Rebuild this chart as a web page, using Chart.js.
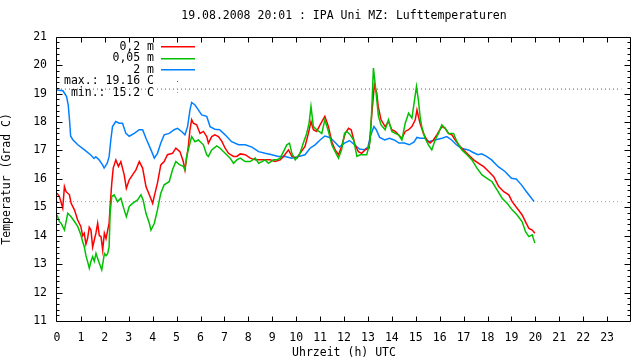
<!DOCTYPE html>
<html>
<head>
<meta charset="utf-8">
<script src="https://cdn.jsdelivr.net/npm/chart.js@4/dist/chart.umd.min.js"></script>
<style>
  html, body { margin: 0; padding: 0; background: #fff; }
</style>
</head>
<body>
<canvas id="chart" width="640" height="360"></canvas>
<script>
// 2 m
const hours2m = [0, 0.25, 0.4, 0.47, 0.53, 0.57, 0.67, 0.87, 1.15, 1.4, 1.55, 1.62, 1.75, 1.9, 1.97, 2.1, 2.18, 2.25, 2.32, 2.46, 2.6, 2.74, 2.88, 3.02, 3.23, 3.44, 3.58, 3.72, 3.93, 4.07, 4.2, 4.34, 4.48, 4.69, 4.9, 5.04, 5.21, 5.35, 5.46, 5.56, 5.63, 5.77, 5.91, 6.05, 6.26, 6.4, 6.6, 6.8, 7.03, 7.3, 7.59, 7.87, 8.15, 8.43, 8.7, 8.98, 9.26, 9.54, 9.82, 10.1, 10.37, 10.58, 10.79, 11.0, 11.2, 11.4, 11.6, 11.81, 12.02, 12.23, 12.44, 12.65, 12.86, 13.0, 13.1, 13.25, 13.35, 13.49, 13.7, 13.9, 14.1, 14.3, 14.52, 14.73, 14.93, 15.05, 15.2, 15.38, 15.55, 15.8, 16.1, 16.3, 16.5, 16.7, 16.9, 17.2, 17.4, 17.6, 17.75, 17.96, 18.17, 18.45, 18.73, 19.0, 19.2, 19.42, 19.63, 19.84, 19.95];
const temp2m = [19.13, 19.1, 18.9, 18.6, 18.0, 17.5, 17.37, 17.2, 17.02, 16.85, 16.72, 16.78, 16.68, 16.5, 16.38, 16.55, 16.79, 17.37, 17.84, 18.02, 17.96, 17.96, 17.6, 17.5, 17.6, 17.73, 17.73, 17.43, 17.02, 16.73, 16.9, 17.26, 17.55, 17.6, 17.73, 17.78, 17.67, 17.55, 17.84, 18.43, 18.69, 18.6, 18.43, 18.25, 18.2, 17.84, 17.75, 17.73, 17.55, 17.31, 17.2, 17.2, 17.12, 16.96, 16.9, 16.85, 16.79, 16.79, 16.73, 16.79, 16.85, 17.08, 17.2, 17.37, 17.51, 17.46, 17.31, 17.12, 17.26, 17.35, 17.2, 17.05, 17.03, 17.12, 17.49, 17.84, 17.73, 17.46, 17.37, 17.43, 17.37, 17.26, 17.26, 17.2, 17.3, 17.46, 17.43, 17.43, 17.31, 17.37, 17.43, 17.49, 17.37, 17.2, 17.08, 17.02, 16.93, 16.85, 16.88, 16.79, 16.67, 16.43, 16.26, 16.02, 16.0, 15.79, 15.55, 15.32, 15.2];

// 0,2 m
const hours02m = [0, 0.1, 0.24, 0.31, 0.38, 0.52, 0.59, 0.73, 0.86, 1.0, 1.07, 1.14, 1.21, 1.28, 1.35, 1.42, 1.49, 1.56, 1.63, 1.7, 1.77, 1.84, 1.91, 1.98, 2.05, 2.12, 2.18, 2.22, 2.29, 2.35, 2.46, 2.57, 2.67, 2.81, 2.9, 3.02, 3.16, 3.3, 3.44, 3.58, 3.72, 3.86, 4.0, 4.08, 4.2, 4.34, 4.48, 4.62, 4.83, 4.97, 5.14, 5.28, 5.35, 5.49, 5.56, 5.63, 5.7, 5.84, 5.98, 6.12, 6.26, 6.33, 6.47, 6.6, 6.75, 6.9, 7.03, 7.17, 7.38, 7.52, 7.66, 7.87, 8.08, 8.29, 8.5, 8.7, 8.91, 9.12, 9.33, 9.47, 9.68, 9.82, 10.03, 10.16, 10.37, 10.51, 10.62, 10.72, 10.86, 11.0, 11.2, 11.35, 11.49, 11.63, 11.77, 11.9, 12.05, 12.19, 12.3, 12.46, 12.6, 12.74, 12.88, 13.05, 13.16, 13.27, 13.37, 13.43, 13.55, 13.72, 13.86, 14.0, 14.14, 14.28, 14.42, 14.56, 14.7, 14.84, 14.98, 15.05, 15.11, 15.18, 15.32, 15.46, 15.6, 15.74, 15.88, 16.09, 16.23, 16.37, 16.51, 16.65, 16.79, 17.0, 17.2, 17.42, 17.63, 17.84, 18.05, 18.26, 18.47, 18.68, 18.89, 19.03, 19.24, 19.45, 19.59, 19.73, 19.87, 19.98];
const temp02m = [15.5, 15.38, 14.97, 15.73, 15.55, 15.44, 15.14, 14.91, 14.56, 14.32, 14.0, 14.09, 13.7, 13.91, 14.3, 14.2, 13.6, 13.85, 14.1, 14.44, 14.0, 13.97, 13.5, 14.09, 13.9, 14.2, 14.44, 15.03, 15.85, 16.38, 16.67, 16.44, 16.61, 16.14, 15.67, 15.97, 16.14, 16.32, 16.61, 16.38, 15.73, 15.44, 15.14, 15.44, 15.85, 16.49, 16.61, 16.85, 16.9, 17.08, 16.96, 16.61, 16.32, 17.14, 17.73, 18.08, 17.96, 17.9, 17.6, 17.67, 17.49, 17.26, 17.49, 17.55, 17.49, 17.31, 17.08, 16.9, 16.79, 16.79, 16.88, 16.85, 16.73, 16.67, 16.67, 16.67, 16.67, 16.61, 16.67, 16.79, 17.02, 16.79, 16.73, 16.9, 17.14, 17.6, 18.02, 17.73, 17.67, 17.9, 18.2, 17.84, 17.31, 17.02, 16.85, 17.14, 17.6, 17.78, 17.73, 17.2, 16.96, 16.9, 17.02, 17.08, 18.25, 19.31, 19.02, 18.55, 18.08, 17.84, 18.02, 17.73, 17.67, 17.55, 17.43, 17.67, 17.73, 17.84, 18.08, 18.43, 18.2, 17.96, 17.6, 17.37, 17.26, 17.37, 17.55, 17.84, 17.78, 17.6, 17.55, 17.37, 17.2, 17.02, 16.85, 16.67, 16.55, 16.43, 16.26, 16.08, 15.73, 15.55, 15.44, 15.2, 14.97, 14.73, 14.49, 14.26, 14.2, 14.09];

// 0,05 m
const hours005m = [0, 0.1, 0.17, 0.31, 0.45, 0.59, 0.73, 0.87, 1.0, 1.07, 1.14, 1.21, 1.28, 1.35, 1.42, 1.49, 1.56, 1.63, 1.7, 1.77, 1.87, 1.93, 1.98, 2.05, 2.12, 2.18, 2.22, 2.29, 2.39, 2.53, 2.67, 2.81, 2.9, 3.02, 3.16, 3.37, 3.51, 3.6, 3.72, 3.86, 3.93, 4.07, 4.2, 4.34, 4.48, 4.69, 4.83, 4.97, 5.14, 5.28, 5.35, 5.42, 5.56, 5.63, 5.77, 5.91, 6.12, 6.26, 6.33, 6.47, 6.68, 6.82, 7.03, 7.24, 7.38, 7.52, 7.66, 7.87, 8.08, 8.29, 8.43, 8.57, 8.7, 8.84, 9.05, 9.19, 9.33, 9.47, 9.61, 9.72, 9.82, 9.96, 10.16, 10.3, 10.44, 10.54, 10.62, 10.72, 10.86, 11.07, 11.2, 11.35, 11.49, 11.63, 11.77, 11.9, 12.02, 12.12, 12.26, 12.4, 12.54, 12.67, 12.81, 12.95, 13.09, 13.16, 13.23, 13.3, 13.37, 13.44, 13.55, 13.72, 13.86, 14.0, 14.14, 14.28, 14.42, 14.56, 14.7, 14.84, 14.95, 15.03, 15.11, 15.18, 15.25, 15.39, 15.53, 15.67, 15.81, 15.95, 16.09, 16.23, 16.37, 16.58, 16.72, 16.93, 17.14, 17.35, 17.56, 17.77, 17.98, 18.19, 18.4, 18.61, 18.82, 19.03, 19.24, 19.45, 19.59, 19.73, 19.87, 19.98];
const temp005m = [14.73, 14.5, 14.44, 14.2, 14.79, 14.67, 14.5, 14.32, 14.03, 13.8, 13.62, 13.3, 13.09, 12.86, 13.1, 13.26, 13.1, 13.38, 13.2, 13.03, 12.8, 13.1, 13.38, 13.3, 13.38, 13.62, 14.79, 15.38, 15.44, 15.2, 15.32, 14.91, 14.67, 15.03, 15.14, 15.26, 15.44, 15.26, 14.79, 14.44, 14.2, 14.44, 14.91, 15.5, 15.79, 15.9, 16.32, 16.61, 16.49, 16.44, 16.32, 16.79, 17.26, 17.49, 17.31, 17.37, 17.2, 16.85, 16.79, 17.02, 17.16, 17.08, 16.9, 16.73, 16.55, 16.67, 16.73, 16.61, 16.61, 16.73, 16.55, 16.61, 16.67, 16.55, 16.67, 16.67, 16.73, 16.96, 17.2, 17.26, 16.9, 16.67, 16.9, 17.26, 17.6, 17.96, 18.55, 17.84, 17.73, 17.6, 18.08, 17.67, 17.2, 16.96, 16.73, 17.02, 17.6, 17.67, 17.55, 17.37, 16.79, 16.85, 16.85, 16.85, 17.31, 18.43, 19.9, 19.37, 18.78, 18.2, 17.9, 17.73, 18.08, 17.67, 17.6, 17.55, 17.37, 17.96, 18.31, 18.14, 18.78, 19.25, 18.78, 18.2, 17.84, 17.43, 17.2, 17.02, 17.37, 17.6, 17.9, 17.78, 17.6, 17.6, 17.31, 17.02, 16.85, 16.67, 16.38, 16.14, 16.02, 15.9, 15.61, 15.32, 15.14, 14.91, 14.73, 14.49, 14.14, 13.97, 14.03, 13.74];

const maxTemp = 19.16;
const minTemp = 15.2;
const refLineHours = [0, 23.6];

const xTicks = [0, 1, 2, 3, 4, 5, 6, 7, 8, 9, 10, 11, 12, 13, 14, 15, 16, 17, 18, 19, 20, 21, 22, 23];
const yTicks = [11, 12, 13, 14, 15, 16, 17, 18, 19, 20, 21];

const monoFont = { family: "'DejaVu Sans Mono', monospace", size: 11.5, weight: 'normal' };

function toPoints(xs, ys) {
  return xs.map((h, i) => ({ x: h, y: ys[i] }));
}

// frame + inward tick marks like the original plot
const frameTicks = {
  id: 'frameTicks',
  afterDatasetsDraw(chart) {
    const { ctx, chartArea: a, scales: { x, y } } = chart;
    const L = Math.round(a.left) - 0.5, R = Math.round(a.right) - 0.5;
    const T = Math.round(a.top) + 0.5, B = Math.round(a.bottom) + 0.5;
    ctx.save();
    ctx.strokeStyle = '#000';
    ctx.lineWidth = 1;
    ctx.beginPath();
    ctx.rect(L, T, R - L, B - T);
    xTicks.forEach(h => {
      if (h === 0) return;
      const px = Math.round(x.getPixelForValue(h)) + 0.5;
      ctx.moveTo(px, B); ctx.lineTo(px, B - 5);
      ctx.moveTo(px, T); ctx.lineTo(px, T + 5);
    });
    for (let k = 0; k <= 50; k++) {
      const v = 11 + k * 0.2;
      const py = Math.round(y.getPixelForValue(v)) + 0.5;
      const len = k % 5 === 0 ? 6 : 3;
      ctx.moveTo(L, py); ctx.lineTo(L + len, py);
      ctx.moveTo(R, py); ctx.lineTo(R - len, py);
    }
    ctx.stroke();
    ctx.restore();
  }
};

const legendBox = {
  id: 'legendBox',
  afterDraw(chart) {
    const { ctx } = chart;
    const rows = [
      { text: '0,2 m', color: '#ff0000', line: true },
      { text: '0,05 m', color: '#00c000', line: true },
      { text: '2 m', color: '#0080ff', line: true },
      { text: 'max.: 19.16 C', color: '#a020f0', line: false },
      { text: 'min.: 15.2 C', color: '#00e0e0', line: false }
    ];
    ctx.save();
    ctx.font = "11.5px 'DejaVu Sans Mono', monospace";
    ctx.textAlign = 'right';
    ctx.textBaseline = 'middle';
    rows.forEach((r, i) => {
      const yy = 47 + i * 11.5;
      ctx.fillStyle = '#000';
      ctx.fillText(r.text, 154, yy);
      ctx.fillStyle = r.color;
      if (r.line) ctx.fillRect(161, Math.round(yy) - 1, 34, 1.5);
      else ctx.fillRect(177, Math.round(yy) - 1, 1, 1);
    });
    ctx.restore();
  }
};

new Chart(document.getElementById('chart'), {
  type: 'line',
  data: {
    datasets: [
      { label: '0,05 m', data: toPoints(hours005m, temp005m), borderColor: '#00c000', borderWidth: 1.5, pointRadius: 0, tension: 0, order: 1 },
      { label: '0,2 m', data: toPoints(hours02m, temp02m), borderColor: '#ff0000', borderWidth: 1.5, pointRadius: 0, tension: 0, order: 2 },
      { label: '2 m', data: toPoints(hours2m, temp2m), borderColor: '#0080ff', borderWidth: 1.5, pointRadius: 0, tension: 0, order: 3 },
      { label: 'max', data: refLineHours.map(h => ({ x: h, y: maxTemp })), borderColor: '#a020f0', borderWidth: 1, borderDash: [1, 3], pointRadius: 0, order: 4 },
      { label: 'min', data: refLineHours.map(h => ({ x: h, y: minTemp })), borderColor: '#00e0e0', borderWidth: 1, borderDash: [1, 3], pointRadius: 0, order: 4 }
    ]
  },
  options: {
    responsive: false,
    animation: false,
    layout: { padding: { left: 0, right: 9, top: 0, bottom: 0 } },
    plugins: {
      legend: { display: false },
      tooltip: { enabled: false },
      title: {
        display: true,
        text: '19.08.2008 20:01 : IPA Uni MZ: Lufttemperaturen',
        fullSize: false,
        color: '#000',
        font: monoFont,
        padding: { top: 9, bottom: 14 }
      }
    },
    scales: {
      x: {
        type: 'linear',
        min: 0,
        max: 24,
        afterFit(s) { s.height = 39; },
        afterBuildTicks(s) { s.ticks = xTicks.map(v => ({ value: v })); },
        ticks: { autoSkip: false, maxRotation: 0, padding: 10, color: '#000', font: monoFont },
        grid: { display: false, drawTicks: false },
        border: { display: false },
        title: { display: true, text: 'Uhrzeit (h) UTC', color: '#000', font: monoFont, padding: { top: 2, bottom: 0 } }
      },
      y: {
        type: 'linear',
        min: 11,
        max: 21,
        afterFit(s) { s.width = 57; },
        afterBuildTicks(s) { s.ticks = yTicks.map(v => ({ value: v })); },
        ticks: { padding: 10, color: '#000', font: monoFont },
        grid: { display: false, drawTicks: false },
        border: { display: false },
        title: { display: true, text: 'Temperatur (Grad C)', color: '#000', font: monoFont, padding: { top: 0, bottom: 0 } }
      }
    }
  },
  plugins: [frameTicks, legendBox]
});
</script>
</body>
</html>
